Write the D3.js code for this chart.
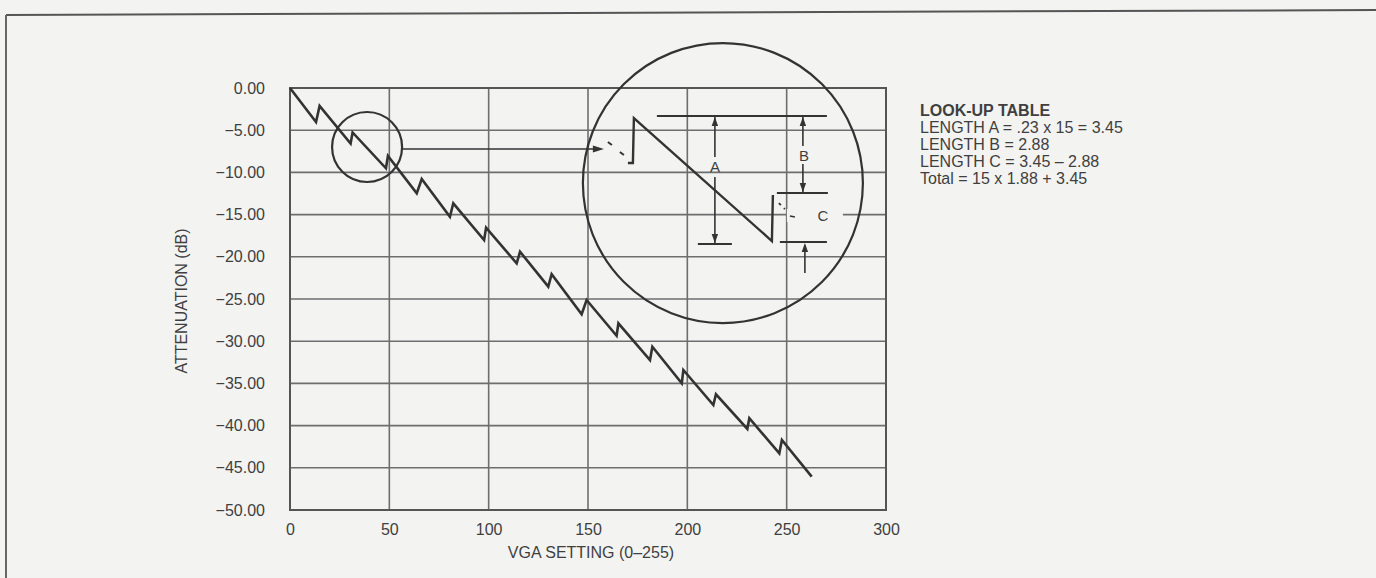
<!DOCTYPE html>
<html>
<head>
<meta charset="utf-8">
<script src="https://cdn.jsdelivr.net/npm/d3@7"></script>
<style>
  html, body { margin: 0; padding: 0; background: #f3f3f2; }
  svg { display: block; }
  text { font-family: "Liberation Sans", Arial, sans-serif; fill: #3f3f3f; }
</style>
</head>
<body>
<svg id="chart" width="1376" height="578"></svg>
<script>
// ---------- data ----------
const vgaSetting = [0, 13.1, 14.9, 30.5, 31.5, 48.3, 49.3, 63.8, 66.3, 80.5, 82.2, 97.7, 98.7,
  114.1, 115.8, 130.0, 131.7, 146.8, 149.3, 164.4, 165.3, 181.2, 182.4, 197.2, 198.0,
  213.1, 214.4, 230.2, 231.2, 246.3, 247.6, 262.6];
const attenuation = [0, -4.03, -2.13, -6.58, -5.27, -9.51, -8.06, -12.48, -10.78, -15.25, -13.66,
  -18.01, -16.55, -20.77, -19.40, -23.54, -22.07, -26.81, -25.12, -29.35, -27.88, -32.23, -30.65,
  -34.99, -33.41, -37.56, -36.29, -40.40, -39.13, -43.28, -41.71, -46.05];
const xTicks = [0, 50, 100, 150, 200, 250, 300];
const yTicks = [0, -5, -10, -15, -20, -25, -30, -35, -40, -45, -50];
const xTitle = "VGA SETTING (0–255)";
const yTitle = "ATTENUATION (dB)";
const tableLines = ["LOOK-UP TABLE", "LENGTH A = .23 x 15 = 3.45", "LENGTH B = 2.88",
  "LENGTH C = 3.45 – 2.88", "Total = 15 x 1.88 + 3.45"];
const zoomSpot = [38.8, -6.99];   // magnified spot on the curve (setting, dB)
const zoomView = [217.9, -11.26]; // centre of the magnified view (setting, dB)
const zoomArrowY = -7.23;

// ---------- layout ----------
const svg = d3.select("#chart");
const L = 290, R = 886, T = 88, B = 510;
const x = d3.scaleLinear().domain([0, 300]).range([L, R]);
const y = d3.scaleLinear().domain([0, -50]).range([T, B]);
const ink = "#333";
const gridCol = "#6e6e6e";
const bg = "#f3f3f2";

// outer page frame
svg.append("line").attr("x1", 6).attr("y1", 15).attr("x2", 1376).attr("y2", 10)
  .attr("stroke", "#555").attr("stroke-width", 2);
svg.append("line").attr("x1", 6).attr("y1", 15).attr("x2", 6).attr("y2", 578)
  .attr("stroke", "#666").attr("stroke-width", 2);

// grid
const g = svg.append("g");
g.selectAll("line.h").data(yTicks).join("line")
  .attr("x1", L).attr("x2", R).attr("y1", d => y(d)).attr("y2", d => y(d))
  .attr("stroke", gridCol).attr("stroke-width", 1.6);
g.selectAll("line.v").data(xTicks).join("line")
  .attr("y1", T).attr("y2", B).attr("x1", d => x(d)).attr("x2", d => x(d))
  .attr("stroke", gridCol).attr("stroke-width", 1.6);
g.append("rect").attr("x", L).attr("y", T).attr("width", R - L).attr("height", B - T)
  .attr("fill", "none").attr("stroke", "#555").attr("stroke-width", 2);

// axes labels
const xAxis = d3.axisBottom(x).tickValues(xTicks).tickSize(0).tickPadding(14).tickFormat(d3.format("d"));
const yAxis = d3.axisLeft(y).tickValues(yTicks).tickSize(0).tickPadding(25).tickFormat(d3.format(".2f"));
const gx = svg.append("g").attr("transform", `translate(0,${B})`).call(xAxis);
const gy = svg.append("g").attr("transform", `translate(${L},0)`).call(yAxis);
[gx, gy].forEach(a => {
  a.select(".domain").remove();
  a.selectAll("text").attr("font-size", 16).attr("font-family", "Liberation Sans, Arial, sans-serif").attr("fill", "#3f3f3f");
});

svg.append("text").attr("x", 591).attr("y", 558).attr("text-anchor", "middle")
  .attr("font-size", 16).text(xTitle);
svg.append("text").attr("transform", `translate(187,301) rotate(-90)`).attr("text-anchor", "middle")
  .attr("font-size", 16).text(yTitle);

// curve
const pts = vgaSetting.map((v, i) => [v, attenuation[i]]);
svg.append("path").datum(pts)
  .attr("d", d3.line().x(d => x(d[0])).y(d => y(d[1])))
  .attr("fill", "none").attr("stroke", ink).attr("stroke-width", 2.6).attr("stroke-linejoin", "miter");

// small circle + connector
const sx = x(zoomSpot[0]), sy = y(zoomSpot[1]);
svg.append("circle").attr("cx", sx).attr("cy", sy).attr("r", 35)
  .attr("fill", "none").attr("stroke", ink).attr("stroke-width", 2.2);
const cx = x(zoomView[0]), cy = y(zoomView[1]), cr = 140;
const ay = y(zoomArrowY);
const axEnd = cx - 123;
svg.append("line").attr("x1", sx + 34).attr("y1", ay).attr("x2", axEnd - 6).attr("y2", ay)
  .attr("stroke", ink).attr("stroke-width", 1.6);
function arrow(px, py, dir, len = 9, w = 3.2) {
  // dir: "r","l","u","d" ; tip at (px,py)
  let p;
  if (dir === "r") p = [[px, py], [px - len, py - w], [px - len, py + w]];
  if (dir === "l") p = [[px, py], [px + len, py - w], [px + len, py + w]];
  if (dir === "u") p = [[px, py], [px - w, py + len], [px + w, py + len]];
  if (dir === "d") p = [[px, py], [px - w, py - len], [px + w, py - len]];
  svg.append("path").attr("d", "M" + p.join("L") + "Z").attr("fill", ink);
}
arrow(axEnd + 4, ay, "r", 11, 3.5);

// big circle
svg.append("circle").attr("cx", cx).attr("cy", cy).attr("r", cr)
  .attr("fill", "none").attr("stroke", ink).attr("stroke-width", 2.2);

// magnified sawtooth inside big circle (relative to centre)
const seg = (x1, y1, x2, y2, w = 2.2, col = ink) =>
  svg.append("line").attr("x1", cx + x1).attr("y1", cy + y1).attr("x2", cx + x2).attr("y2", cy + y2)
    .attr("stroke", col).attr("stroke-width", w);
seg(-115, -41, -111, -38, 2);
seg(-103, -31, -99, -28, 2);
svg.append("path")
  .attr("d", `M${cx - 95},${cy - 20}L${cx - 90},${cy - 20}L${cx - 89},${cy - 65}L${cx + 49},${cy + 58}L${cx + 50},${cy + 12}`)
  .attr("fill", "none").attr("stroke", ink).attr("stroke-width", 2.4);
seg(56, 20, 58, 22, 1.8);
seg(61, 25, 62, 26, 1.8);

// dimension lines
seg(-66, -67, 104, -67, 2);     // top reference line
// A
seg(-8, -67, -8, -26, 1.6);
seg(-8, -6, -8, 61, 1.6);
arrow(cx - 8, cy - 66, "u");
arrow(cx - 8, cy + 60, "d");
seg(-25, 61, 9, 61, 2);
svg.append("text").attr("x", cx - 8).attr("y", cy - 11).attr("text-anchor", "middle").attr("font-size", 15).text("A");
// B
seg(80, -67, 80, -37, 1.6);
seg(80, -19, 80, 10, 1.6);
arrow(cx + 80, cy - 66, "u");
arrow(cx + 80, cy + 9, "d");
seg(54, 10, 105, 10, 2);
svg.append("text").attr("x", cx + 81).attr("y", cy - 22).attr("text-anchor", "middle").attr("font-size", 15).text("B");
// C
seg(57, 59, 104, 59, 2);
seg(82, 90, 82, 62, 1.6);
arrow(cx + 82, cy + 60, "u");
svg.append("rect").attr("x", cx + 64).attr("y", cy + 26).attr("width", 56).attr("height", 13).attr("fill", bg);
seg(67, 33, 72, 34, 1.4);
svg.append("text").attr("x", cx + 100).attr("y", cy + 38).attr("text-anchor", "middle").attr("font-size", 15).text("C");

// look-up table
svg.append("g").selectAll("text").data(tableLines).join("text")
  .attr("x", 920).attr("y", (d, i) => 116 + i * 17)
  .attr("font-size", 16)
  .attr("font-weight", (d, i) => i === 0 ? "bold" : "normal")
  .text(d => d);
</script>
</body>
</html>
